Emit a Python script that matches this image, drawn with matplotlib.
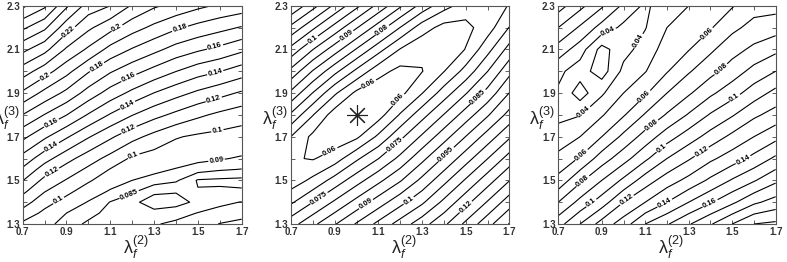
import numpy as np
import matplotlib
matplotlib.use('Agg')
import matplotlib.pyplot as plt
from matplotlib.ticker import MultipleLocator, FuncFormatter

plt.rcParams['font.family'] = ['Liberation Sans', 'DejaVu Sans']
plt.rcParams['mathtext.fontset'] = 'custom'
plt.rcParams['mathtext.rm'] = 'Liberation Sans'
plt.rcParams['mathtext.it'] = 'Liberation Sans:italic'

# lambda_f^(2) axis (columns) and lambda_f^(3) axis (rows)
lam2 = [0.7, 0.8, 0.9, 1.0, 1.1, 1.2, 1.3, 1.4, 1.5, 1.6, 1.7]
lam3_a = [1.3, 1.35, 1.4, 1.45, 1.5, 1.55, 1.6, 1.7, 1.8, 1.9, 2.0, 2.1, 2.2, 2.3]
lam3 = [1.3, 1.4, 1.5, 1.6, 1.7, 1.8, 1.9, 2.0, 2.1, 2.2, 2.3]

# left panel, values
z_a = [
    [0.0980, 0.0922, 0.0875, 0.0840, 0.0820, 0.0835, 0.0845, 0.0862, 0.0875, 0.0902, 0.0915],
    [0.1064, 0.0976, 0.0900, 0.0867, 0.0833, 0.0815, 0.0810, 0.0828, 0.0852, 0.0868, 0.0881],
    [0.1144, 0.1038, 0.0963, 0.0894, 0.0848, 0.0809, 0.0782, 0.0780, 0.0812, 0.0838, 0.0852],
    [0.1224, 0.1105, 0.1027, 0.0950, 0.0891, 0.0862, 0.0808, 0.0804, 0.0803, 0.0808, 0.0806],
    [0.1304, 0.1173, 0.1093, 0.1013, 0.0942, 0.0900, 0.0879, 0.0858, 0.0795, 0.0790, 0.0786],
    [0.1384, 0.1252, 0.1160, 0.1080, 0.0995, 0.0942, 0.0915, 0.0896, 0.0872, 0.0856, 0.0848],
    [0.1464, 0.1339, 0.1235, 0.1147, 0.1067, 0.0983, 0.0954, 0.0932, 0.0917, 0.0906, 0.0892],
    [0.1626, 0.1518, 0.1413, 0.1309, 0.1217, 0.1133, 0.1067, 0.1008, 0.0983, 0.0969, 0.0956],
    [0.1798, 0.1696, 0.1602, 0.1491, 0.1391, 0.1304, 0.1233, 0.1175, 0.1120, 0.1077, 0.1043],
    [0.1982, 0.1870, 0.1774, 0.1659, 0.1558, 0.1474, 0.1398, 0.1336, 0.1280, 0.1233, 0.1186],
    [0.2150, 0.2046, 0.1933, 0.1809, 0.1711, 0.1636, 0.1567, 0.1502, 0.1443, 0.1403, 0.1350],
    [0.2327, 0.2232, 0.2086, 0.1983, 0.1867, 0.1792, 0.1728, 0.1662, 0.1615, 0.1574, 0.1522],
    [0.2520, 0.2420, 0.2243, 0.2120, 0.2033, 0.1941, 0.1876, 0.1815, 0.1769, 0.1731, 0.1692],
    [0.2720, 0.2620, 0.2417, 0.2257, 0.2200, 0.2089, 0.2014, 0.1970, 0.1923, 0.1885, 0.1858],
]
levels_a = [0.08, 0.085, 0.09, 0.10, 0.11, 0.12, 0.13, 0.14, 0.15, 0.16, 0.17,
            0.18, 0.19, 0.20, 0.21, 0.22, 0.23, 0.24, 0.25, 0.26, 0.27]

# middle panel
z_b = [
    [0.0780, 0.0838, 0.0896, 0.0955, 0.1013, 0.1071, 0.1129, 0.1189, 0.1261, 0.1332, 0.1403],
    [0.0692, 0.0750, 0.0808, 0.0867, 0.0925, 0.0983, 0.1041, 0.1112, 0.1183, 0.1254, 0.1326],
    [0.0621, 0.0662, 0.0720, 0.0779, 0.0837, 0.0895, 0.0963, 0.1034, 0.1106, 0.1177, 0.1248],
    [0.0606, 0.0596, 0.0625, 0.0691, 0.0749, 0.0814, 0.0886, 0.0957, 0.1028, 0.1099, 0.1171],
    [0.0649, 0.0588, 0.0568, 0.0590, 0.0660, 0.0737, 0.0808, 0.0879, 0.0951, 0.1022, 0.1093],
    [0.0741, 0.0652, 0.0575, 0.0550, 0.0578, 0.0655, 0.0731, 0.0802, 0.0873, 0.0944, 0.1017],
    [0.0838, 0.0748, 0.0658, 0.0588, 0.0565, 0.0585, 0.0648, 0.0724, 0.0796, 0.0867, 0.0951],
    [0.0936, 0.0846, 0.0765, 0.0688, 0.0618, 0.0585, 0.0598, 0.0648, 0.0718, 0.0799, 0.0885],
    [0.1034, 0.0951, 0.0874, 0.0796, 0.0719, 0.0647, 0.0610, 0.0609, 0.0652, 0.0733, 0.0818],
    [0.1137, 0.1060, 0.0982, 0.0904, 0.0827, 0.0749, 0.0674, 0.0632, 0.0635, 0.0676, 0.0752],
    [0.1245, 0.1168, 0.1090, 0.1013, 0.0935, 0.0858, 0.0782, 0.0719, 0.0677, 0.0671, 0.0703],
]
levels_b = [0.06, 0.065, 0.07, 0.075, 0.08, 0.085, 0.09, 0.095, 0.10, 0.105,
            0.11, 0.115, 0.12, 0.125, 0.13, 0.135, 0.14]
star_x = [1.0]
star_y = [1.8]

# right panel
z_c = [
    [0.0961, 0.1100, 0.1240, 0.1350, 0.1500, 0.1590, 0.1690, 0.1790, 0.1900, 0.2000, 0.2020],
    [0.0800, 0.0930, 0.1050, 0.1200, 0.1300, 0.1400, 0.1500, 0.1590, 0.1680, 0.1780, 0.1840],
    [0.0630, 0.0780, 0.0900, 0.1020, 0.1150, 0.1250, 0.1330, 0.1420, 0.1510, 0.1590, 0.1680],
    [0.0530, 0.0610, 0.0750, 0.0860, 0.0980, 0.1100, 0.1190, 0.1280, 0.1350, 0.1430, 0.1520],
    [0.0440, 0.0500, 0.0600, 0.0725, 0.0840, 0.0955, 0.1050, 0.1140, 0.1225, 0.1300, 0.1370],
    [0.0375, 0.0395, 0.0490, 0.0590, 0.0710, 0.0810, 0.0910, 0.1010, 0.1090, 0.1180, 0.1240],
    [0.0385, 0.0250, 0.0385, 0.0500, 0.0586, 0.0700, 0.0786, 0.0880, 0.0960, 0.1050, 0.1130],
    [0.0425, 0.0345, 0.0250, 0.0427, 0.0495, 0.0593, 0.0690, 0.0768, 0.0847, 0.0933, 0.1000],
    [0.0557, 0.0450, 0.0262, 0.0365, 0.0442, 0.0546, 0.0595, 0.0682, 0.0763, 0.0822, 0.0875],
    [0.0700, 0.0586, 0.0462, 0.0375, 0.0395, 0.0500, 0.0548, 0.0591, 0.0675, 0.0734, 0.0756],
    [0.0843, 0.0729, 0.0615, 0.0480, 0.0380, 0.0460, 0.0500, 0.0545, 0.0592, 0.0660, 0.0665],
]
levels_c = [0.03, 0.04, 0.05, 0.06, 0.07, 0.08, 0.09, 0.10, 0.11, 0.12, 0.13,
            0.14, 0.15, 0.16, 0.17, 0.18, 0.19, 0.20]

# where the contour labels sit in the reference
lab_a = [(0.909, 2.181), (1.129, 2.201), (1.418, 2.196), (1.578, 2.112), (1.578, 1.998),
         (1.571, 1.876), (1.586, 1.746), (1.586, 1.585), (0.802, 1.975), (1.038, 2.021),
         (1.182, 1.975), (1.175, 1.853), (1.182, 1.738), (1.205, 1.616), (1.19, 1.425),
         (0.832, 1.761), (0.832, 1.654), (0.832, 1.54), (0.863, 1.41)]
lab_b = [(0.795, 2.151), (0.947, 2.174), (1.123, 2.181), (1.047, 1.959), (1.192, 1.868),
         (0.886, 1.618), (1.169, 1.67), (1.55, 1.89), (1.40, 1.631), (0.833, 1.41),
         (1.031, 1.41), (1.237, 1.41), (1.49, 1.39)]
lab_c = [(0.93, 2.18), (1.076, 2.135), (0.823, 1.807), (1.383, 2.173), (1.452, 2.005),
         (1.513, 1.876), (1.36, 1.631), (1.551, 1.593), (1.398, 1.395), (1.19, 1.395),
         (1.015, 1.41), (0.853, 1.395), (0.815, 1.494), (0.807, 1.616), (1.175, 1.647),
         (1.129, 1.753), (1.098, 1.883)]


def fmt(v):
    return '%g' % round(v, 4)


def tick_fmt(start):
    def f(v, pos):
        k = (v - start) / 0.2
        if abs(k - round(k)) < 1e-6:
            return '%g' % round(v, 2)
        return ''
    return FuncFormatter(f)


fig = plt.figure(figsize=(7.87, 2.62), dpi=100)
boxes = [[0.0288, 0.145, 0.2783, 0.833],
         [0.3698, 0.145, 0.2774, 0.833],
         [0.7094, 0.145, 0.2762, 0.833]]
panels = [(lam3_a, z_a, levels_a, lab_a),
          (lam3, z_b, levels_b, lab_b),
          (lam3, z_c, levels_c, lab_c)]

for i, (box, (yy, zz, lev, labs)) in enumerate(zip(boxes, panels)):
    ax = fig.add_axes(box)
    cs = ax.contour(lam2, yy, np.array(zz), levels=lev, colors='k', linewidths=0.8)
    texts = ax.clabel(cs, manual=labs, fmt=fmt, fontsize=5.5, inline=True, inline_spacing=1)
    for t in texts:
        t.set_fontweight('bold')
    if i == 1:
        ax.plot(star_x, star_y, linestyle='none', marker=(8, 2, 0), markersize=15,
                markeredgewidth=0.8, color='#222222')
    ax.set_xlim(0.7, 1.7)
    ax.set_ylim(1.3, 2.3)
    ax.xaxis.set_major_locator(MultipleLocator(0.1))
    ax.yaxis.set_major_locator(MultipleLocator(0.1))
    ax.xaxis.set_major_formatter(tick_fmt(0.7))
    ax.yaxis.set_major_formatter(tick_fmt(1.3))
    ax.tick_params(direction='in', top=True, right=True, length=3, width=0.6,
                   labelsize=7, pad=2, labelcolor='#333333', color='#444444')
    for lbl in ax.get_xticklabels() + ax.get_yticklabels():
        lbl.set_fontweight('bold')
    for sp in ax.spines.values():
        sp.set_linewidth(0.8)
        sp.set_color('#555555')
    ax.text(0.517, -0.105, r'λ$_f^{(2)}$', transform=ax.transAxes,
            ha='center', va='center', fontsize=13, color='#222222')
    ax.text(-0.074, 0.485, r'λ$_f^{(3)}$', transform=ax.transAxes,
            ha='center', va='center', fontsize=13, color='#222222')

fig.savefig('out.png', dpi=100)
